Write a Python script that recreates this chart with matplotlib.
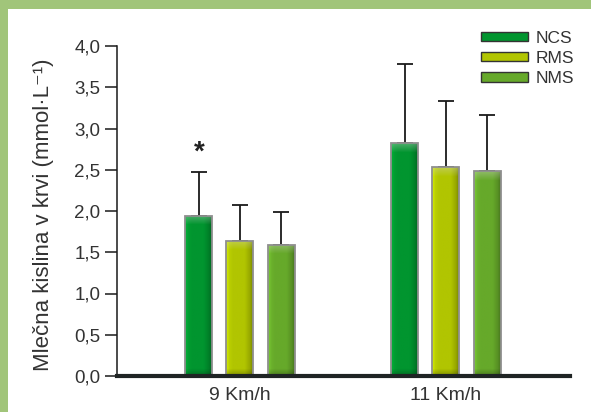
import numpy as np
import matplotlib
matplotlib.use("Agg")
import matplotlib.pyplot as plt
from matplotlib.patches import Patch, Rectangle
from matplotlib.colors import to_rgb

# data
groups = ["9 Km/h", "11 Km/h"]
series = ["NCS", "RMS", "NMS"]
means = {
    "NCS": [1.94, 2.82],
    "RMS": [1.64, 2.53],
    "NMS": [1.59, 2.48],
}
sd = {
    "NCS": [0.53, 0.96],
    "RMS": [0.43, 0.80],
    "NMS": [0.40, 0.68],
}
colors = {"NCS": "#01952f", "RMS": "#b1c501", "NMS": "#66a92a"}
yticks = [0.0, 0.5, 1.0, 1.5, 2.0, 2.5, 3.0, 3.5, 4.0]
ytick_labels = ["0,0", "0,5", "1,0", "1,5", "2,0", "2,5", "3,0", "3,5", "4,0"]

plt.rcParams["font.family"] = ["Liberation Sans", "DejaVu Sans"]

W, H = 591, 412
fig = plt.figure(figsize=(W / 100, H / 100), dpi=100)
fig.patch.set_facecolor("white")

# green frame on top and left
fig.patches.append(Rectangle((0, 1 - 9 / H), 1, 9 / H, transform=fig.transFigure,
                             facecolor="#a1c57a", edgecolor="none", zorder=0))
fig.patches.append(Rectangle((0, 0), 8 / W, 1, transform=fig.transFigure,
                             facecolor="#a1c57a", edgecolor="none", zorder=0))

ax = fig.add_axes([117 / W, 1 - 376 / H, (570 - 117) / W, (376 - 46) / H])


def shaded(color, height_px):
    # glossy look: lighter left edge, darker right edge, soft top highlight
    base = np.array(to_rgb(color))
    t = np.linspace(0, 1, 40)
    k = np.interp(t, [0, 0.12, 0.25, 0.7, 0.9, 1.0], [1.2, 1.05, 1.0, 1.0, 0.85, 0.7])
    row = np.clip(base[None, :] * k[:, None], 0, 1)
    n = max(int(height_px), 10)
    img = np.repeat(row[None, :, :], n, axis=0)
    top = np.linspace(0.35, 0, 10)[:, None, None]
    img[:10] = img[:10] * (1 - top) + top * 0.85
    bot = np.linspace(1, 0.75, 8)[:, None, None]
    img[-8:] = img[-8:] * bot
    return np.clip(img, 0, 1)


px_per_unit = 330 / 4.0
x = np.arange(len(groups))
offset = 0.2
width = 0.131
for i, s in enumerate(series):
    xs = x + (i - 1) * offset
    bars = ax.bar(xs, means[s], width, color=colors[s], edgecolor="none", zorder=2)
    for b in bars:
        im = ax.imshow(shaded(colors[s], b.get_height() * px_per_unit),
                       extent=[b.get_x(), b.get_x() + b.get_width(), 0, b.get_height()],
                       aspect="auto", origin="upper", zorder=2.1, interpolation="bilinear")
        im.set_clip_path(b)
    ax.bar(xs, means[s], width, fill=False, edgecolor="#8f8f8f", linewidth=1.3, zorder=2.2)
    ax.errorbar(xs, means[s], yerr=[np.zeros(len(groups)), sd[s]], fmt="none",
                ecolor="#1a1a1a", elinewidth=1.3, capsize=5.8, capthick=1.3, zorder=1)

# significance mark
ax.text(x[0] - offset, means["NCS"][0] + sd["NCS"][0] + 0.08, "*",
        ha="center", va="bottom", fontsize=20, fontweight="bold", color="#222222")

ax.set_xlim(-0.597, 1.602)
ax.set_ylim(0, 4.0)
ax.set_yticks(yticks)
ax.set_yticklabels(ytick_labels)
ax.set_xticks(x)
ax.set_xticklabels(groups)

ax.spines["top"].set_visible(False)
ax.spines["right"].set_visible(False)
ax.spines["left"].set_color("#1a1a1a")
ax.spines["left"].set_linewidth(1.1)
ax.spines["bottom"].set_color("#1f2424")
ax.spines["bottom"].set_linewidth(3)
ax.tick_params(axis="y", direction="out", length=9, width=1.1, color="#1a1a1a",
               labelsize=13.5, labelcolor="#333333", pad=3)
ax.tick_params(axis="x", length=0, labelsize=14, labelcolor="#333333", pad=8)

ax.set_ylabel("Mlečna kislina v krvi (mmol·L⁻¹)", fontsize=16,
              color="#333333")
ax.yaxis.set_label_coords(-0.14, 0.488)

handles = [Patch(facecolor=colors[s], edgecolor="#333333", linewidth=1.0, label=s)
           for s in series]
ax.legend(handles=handles, loc="upper left", bbox_to_anchor=(465 / W, 1 - 15 / H),
          bbox_transform=fig.transFigure, frameon=False, fontsize=12.5,
          handlelength=2.7, handleheight=0.45, handletextpad=0.45,
          labelspacing=0.3, labelcolor="#333333")

fig.savefig("out.png", dpi=100)
